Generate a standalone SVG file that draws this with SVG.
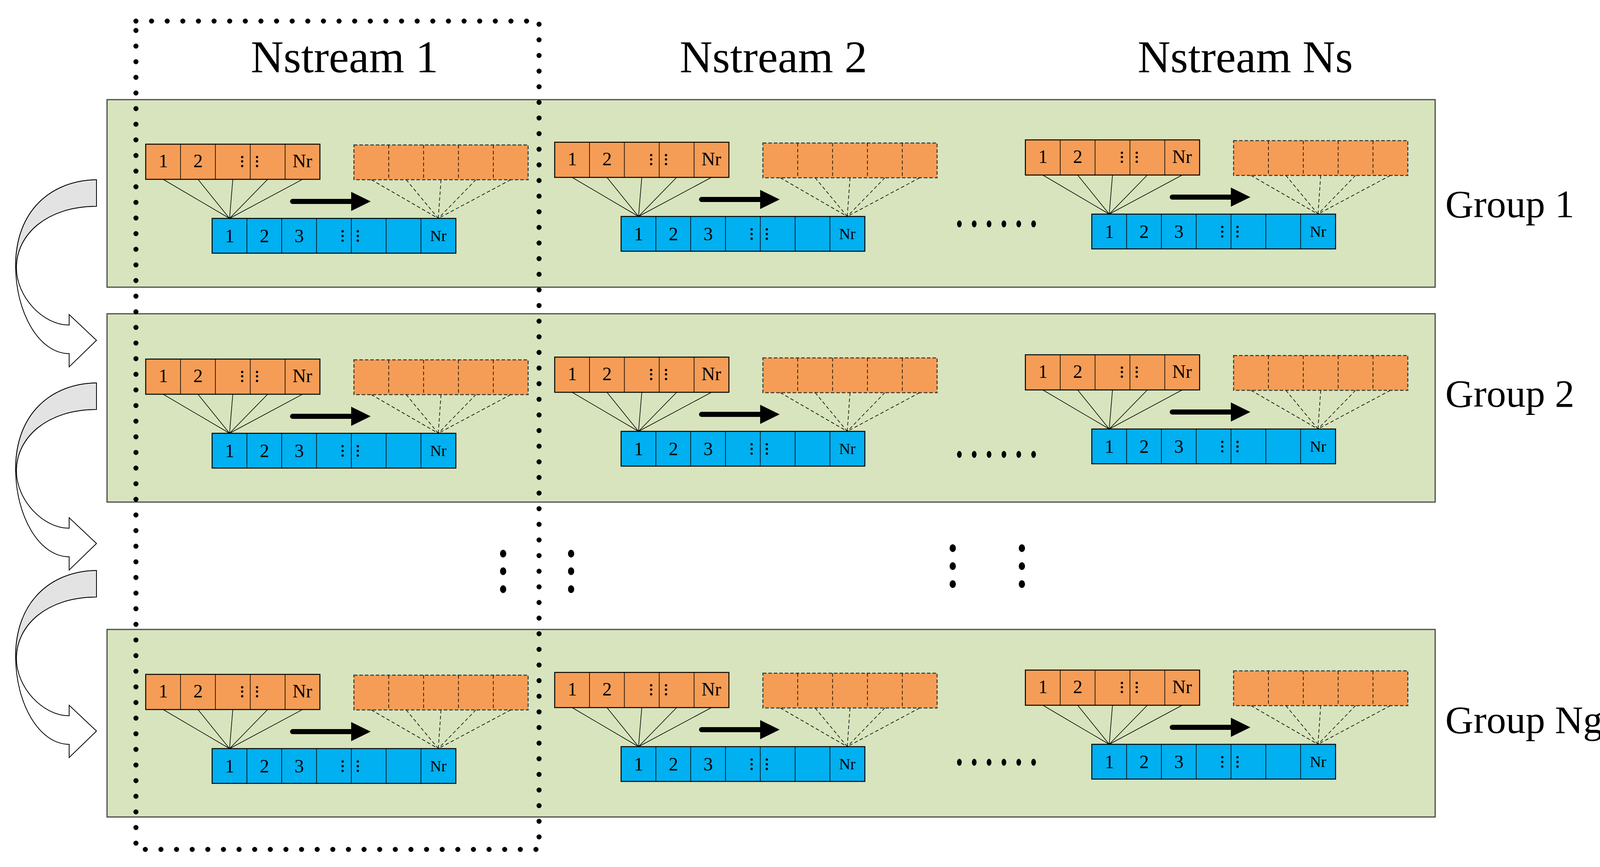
<svg xmlns="http://www.w3.org/2000/svg" xmlns:xlink="http://www.w3.org/1999/xlink" width="4186" height="2219" viewBox="0 0 4186 2219">
<style>
.grp{fill:#d7e4bd;stroke:#4a4a4a;stroke-width:3}
.or{fill:#f59d56;stroke:#000;stroke-width:2.5}
.ord{fill:#f59d56;stroke:#333;stroke-width:2.5;stroke-dasharray:9 5}
.bl{fill:#00b0f0;stroke:#000;stroke-width:2.5}
.ln{stroke:#000;stroke-width:1.6;fill:none}
.lnd{stroke:#000;stroke-width:1.6;fill:none;stroke-dasharray:9 6}
.t{font-family:"Liberation Serif",serif;fill:#000;text-anchor:middle}
.c{font-size:48px}
.n{font-size:40px}
.h{font-size:116px}
.g{font-size:100px;text-anchor:start}
.dotl{stroke:#000;stroke-width:13;stroke-linecap:round;stroke-dasharray:0 40;fill:none}
.curve{fill:#fff;stroke:#000;stroke-width:2}
.curveg{fill:#e3e3e3;stroke:#000;stroke-width:2}
</style>
<defs>
<g id="unit">
<rect class="or" x="373" y="369" width="446" height="90"/>
<path class="ln" d="M462.2,369V459M551.4,369V459M640.6,369V459M729.8,369V459"/>
<text class="t c" x="418" y="428">1</text>
<text class="t c" x="507" y="428">2</text>
<text class="t c" x="774" y="428">Nr</text>
<g fill="#000"><circle cx="620" cy="402" r="3"/><circle cx="620" cy="413" r="3"/><circle cx="620" cy="425" r="3"/><circle cx="658" cy="402" r="3"/><circle cx="658" cy="413" r="3"/><circle cx="658" cy="425" r="3"/></g>
<rect class="ord" x="906" y="371" width="446" height="89"/>
<path class="lnd" d="M995.2,371V460M1084.4,371V460M1173.6,371V460M1262.8,371V460"/>
<rect class="bl" x="543" y="559" width="624" height="89"/>
<path class="ln" d="M632.1,559V648M721.2,559V648M810.3,559V648M899.4,559V648M988.5,559V648M1077.6,559V648"/>
<text class="t c" x="588" y="620">1</text>
<text class="t c" x="677" y="620">2</text>
<text class="t c" x="766" y="620">3</text>
<text class="t n" x="1122" y="617">Nr</text>
<g fill="#000"><circle cx="877" cy="592" r="3"/><circle cx="877" cy="604" r="3"/><circle cx="877" cy="616" r="3"/><circle cx="916" cy="592" r="3"/><circle cx="916" cy="604" r="3"/><circle cx="916" cy="616" r="3"/></g>
<path class="ln" d="M417.6,459L587.6,559M506.8,459L587.6,559M596,459L587.6,559M685.2,459L587.6,559M774.4,459L587.6,559"/>
<path class="lnd" d="M950.6,460L1122,559M1039.8,460L1122,559M1129,460L1122,559M1218.2,460L1122,559M1307.4,460L1122,559"/>
<path d="M749,509H899V491L949,515.5L899,540V522H749A6.5,6.5 0 0 1 749,509Z" fill="#000"/>
</g>
<g id="curv">
<path class="curve" d="M247,460C130,462 40,540 40,680C40,800 100,905 177,905L177,939L247,871L177,805L177,832C110,832 42,760 42,685C42,600 120,528 247,528Z"/>
<path class="curveg" d="M247,460C130,462 40,540 40,680C40,690 41,690 42,685C42,600 120,528 247,528Z"/>
</g>
</defs>
<rect width="4186" height="2219" fill="#fff"/>
<g id="group1"><rect class="grp" x="274" y="255" width="3400" height="480"/><text class="t g" x="3700" y="556">Group 1</text></g>
<g id="group2"><rect class="grp" x="274" y="803" width="3400" height="482"/><text class="t g" x="3700" y="1041">Group 2</text></g>
<g id="groupNg"><rect class="grp" x="274" y="1611" width="3400" height="480"/><text class="t g" x="3700" y="1876">Group Ng</text></g>
<g id="headers">
<text class="t h" x="882" y="185">Nstream 1</text>
<text class="t h" x="1980" y="185">Nstream 2</text>
<text class="t h" x="3188" y="185">Nstream Ns</text>
</g>
<g id="g1s1"><use xlink:href="#unit"/></g>
<g id="g1s2"><use xlink:href="#unit" transform="translate(1047,-5)"/></g>
<g id="g1sNs"><use xlink:href="#unit" transform="translate(2252,-11)"/></g>
<g id="g2s1"><use xlink:href="#unit" transform="translate(0,550)"/></g>
<g id="g2s2"><use xlink:href="#unit" transform="translate(1047,545)"/></g>
<g id="g2sNs"><use xlink:href="#unit" transform="translate(2252,539)"/></g>
<g id="gNgs1"><use xlink:href="#unit" transform="translate(0,1357)"/></g>
<g id="gNgs2"><use xlink:href="#unit" transform="translate(1047,1352)"/></g>
<g id="gNgsNs"><use xlink:href="#unit" transform="translate(2252,1346)"/></g>
<g id="ellipses" fill="#000">
<g id="ell1"><ellipse cx="2456" cy="573" rx="6" ry="9"/><ellipse cx="2494" cy="573" rx="6" ry="9"/><ellipse cx="2532" cy="573" rx="6" ry="9"/><ellipse cx="2570" cy="573" rx="6" ry="9"/><ellipse cx="2608" cy="573" rx="6" ry="9"/><ellipse cx="2646" cy="573" rx="6" ry="9"/></g>
<use xlink:href="#ell1" transform="translate(0,590)"/>
<use xlink:href="#ell1" transform="translate(0,1378)"/>
<g id="vdots">
<ellipse cx="1288" cy="1417" rx="8" ry="10"/><ellipse cx="1288" cy="1462" rx="8" ry="10"/><ellipse cx="1288" cy="1508" rx="8" ry="10"/>
<ellipse cx="1462" cy="1417" rx="8" ry="10"/><ellipse cx="1462" cy="1462" rx="8" ry="10"/><ellipse cx="1462" cy="1508" rx="8" ry="10"/>
<ellipse cx="2439" cy="1403" rx="8" ry="10"/><ellipse cx="2439" cy="1449" rx="8" ry="10"/><ellipse cx="2439" cy="1495" rx="8" ry="10"/>
<ellipse cx="2616" cy="1403" rx="8" ry="10"/><ellipse cx="2616" cy="1449" rx="8" ry="10"/><ellipse cx="2616" cy="1495" rx="8" ry="10"/>
</g>
</g>
<g id="connectors">
<use xlink:href="#curv"/>
<use xlink:href="#curv" transform="translate(0,520)"/>
<use xlink:href="#curv" transform="translate(0,1000)"/>
</g>
<g id="nstream1-frame">
<rect class="dotl" x="348" y="54" width="1032" height="2120"/>
</g>
</svg>
